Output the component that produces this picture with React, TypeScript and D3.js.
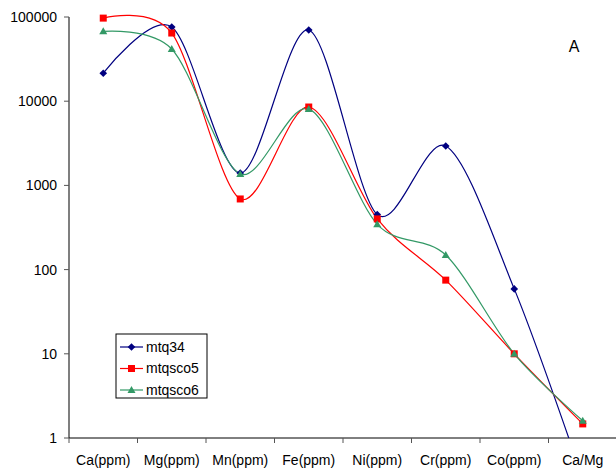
import React from "react";
import * as d3 from "d3";

const categories = ["Ca(ppm)", "Mg(ppm)", "Mn(ppm)", "Fe(ppm)", "Ni(ppm)", "Cr(ppm)", "Co(ppm)", "Ca/Mg"];
const mtq34 = [21500, 76000, 1400, 70000, 450, 2940, 59, 0.33];
const mtqsco5 = [97000, 64500, 690, 8530, 400, 75, 10, 1.47];
const mtqsco6 = [67500, 41700, 1365, 8100, 345, 149, 10, 1.6];
const yTicks = [1, 10, 100, 1000, 10000, 100000];

const seriesList = [
  { name: "mtq34", values: mtq34, color: "#000080", marker: "diamond" },
  { name: "mtqsco5", values: mtqsco5, color: "#FF0000", marker: "square" },
  { name: "mtqsco6", values: mtqsco6, color: "#339966", marker: "triangle" },
];

const W = 616, H = 474;
const left = 69, right = 617, top = 17, bottom = 438;

function Marker({ type, x, y, color }: { type: string; x: number; y: number; color: string }) {
  if (type === "diamond") {
    const s = 3.8;
    return <path d={`M${x},${y - s}L${x + s},${y}L${x},${y + s}L${x - s},${y}Z`} fill={color} />;
  }
  if (type === "square") {
    const s = 3.5;
    return <rect x={x - s} y={y - s} width={2 * s} height={2 * s} fill={color} />;
  }
  const s = 4;
  return <path d={`M${x},${y - s}L${x + s},${y + s * 0.75}L${x - s},${y + s * 0.75}Z`} fill={color} />;
}

export default function App() {
  const x = d3.scaleBand<string>().domain(categories).range([left, right]);
  const y = d3.scaleLog().domain([1, 100000]).range([bottom, top]);
  const cx = (c: string) => (x(c) as number) + x.bandwidth() / 2;
  const line = d3
    .line<number>()
    .x((_, i) => cx(categories[i]))
    .y((d) => y(d))
    .curve(d3.curveCardinal.tension(0.1));
  const font = "Liberation Sans, Arial, sans-serif";
  const tickXs = d3.range(categories.length + 1).map((i) => left + i * x.step());

  return (
    <svg width={W} height={H} style={{ position: "absolute", left: 0, top: 0 }} fontFamily={font}>
      <defs>
        <clipPath id="plotclip">
          <rect x={left} y={0} width={W - left} height={bottom} />
        </clipPath>
      </defs>
      <rect x={0} y={0} width={W} height={H} fill="#fff" />
      {/* y axis */}
      <line x1={left} x2={left} y1={top} y2={bottom} stroke="#555" strokeWidth={1.5} />
      {yTicks.map((t) => (
        <g key={t}>
          <line x1={left - 5} x2={left} y1={y(t)} y2={y(t)} stroke="#555" strokeWidth={1} />
          <text x={57} y={y(t)} dy="0.35em" textAnchor="end" fontSize={14} fill="#000">
            {t}
          </text>
        </g>
      ))}
      {/* x axis */}
      <line x1={left} x2={W} y1={bottom} y2={bottom} stroke="#000" strokeWidth={1} />
      {tickXs.map((tx, i) => (
        <line key={i} x1={tx} x2={tx} y1={bottom} y2={bottom + 5} stroke="#555" strokeWidth={1} />
      ))}
      {categories.map((c) => (
        <text key={c} x={cx(c)} y={465} textAnchor="middle" fontSize={14} fill="#000">
          {c}
        </text>
      ))}
      {/* series */}
      <g clipPath="url(#plotclip)">
        {seriesList.map((s) => (
          <path key={s.name} d={line(s.values) || ""} fill="none" stroke={s.color} strokeWidth={1.2} />
        ))}
        {seriesList.map((s) =>
          s.values.map((v, i) =>
            v >= 1 ? <Marker key={s.name + i} type={s.marker} x={cx(categories[i])} y={y(v)} color={s.color} /> : null
          )
        )}
      </g>
      <text x={574} y={52} textAnchor="middle" fontSize={16} fill="#000">
        A
      </text>
      {/* legend */}
      <rect x={116} y={334} width={91} height={64} fill="#fff" stroke="#000" strokeWidth={1} />
      {seriesList.map((s, i) => {
        const ly = 347 + i * 21.5;
        return (
          <g key={s.name}>
            <line x1={120} x2={143} y1={ly} y2={ly} stroke={s.color} strokeWidth={1.2} />
            <Marker type={s.marker} x={131.5} y={ly} color={s.color} />
            <text x={146} y={ly} dy="0.35em" fontSize={14} fill="#000">
              {s.name}
            </text>
          </g>
        );
      })}
    </svg>
  );
}
